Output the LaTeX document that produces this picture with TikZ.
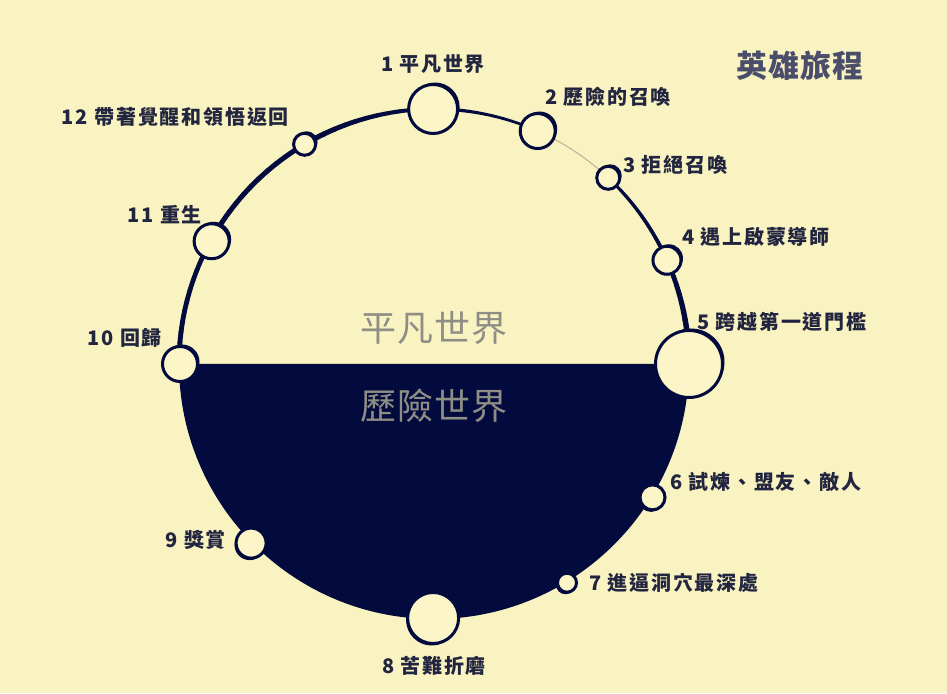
\documentclass[tikz,border=0pt]{standalone}
\usepackage{fontspec}
\newfontfamily\cjk{Noto Sans CJK TC}[LetterSpace=9]
\newfontfamily\cjkw{Noto Sans CJK TC}[LetterSpace=3]
\usetikzlibrary{shadows}
\definecolor{bg}{HTML}{F9F2C1}
\definecolor{stfill}{HTML}{FBF5C8}
\definecolor{navy}{HTML}{030A3D}
\definecolor{labcol}{HTML}{22253F}
\definecolor{titlecol}{HTML}{4B4E6B}
\definecolor{worldcol}{HTML}{8E8E86}
\definecolor{faint}{HTML}{B8B49C}
\newcommand\taperarc[4]{%
  \foreach \i in {0,...,11}{%
    \pgfmathsetmacro\aa{#1+(#2-#1)*\i/12}%
    \pgfmathsetmacro\ab{#1+(#2-#1)*(\i+1)/12}%
    \pgfmathsetmacro\ww{#3+(#4-#3)*(\i+0.5)/12}%
    \draw[line width=\ww pt, draw=navy, line cap=round] ([shift={(\aa:255)}]C) arc[start angle=\aa, end angle=\ab, radius=255];
  }}
\tikzset{
  stn/.style={circle, draw=navy, line width=3pt, fill=stfill, inner sep=0pt},
  stnT/.style={stn, drop shadow={shadow xshift=2pt, shadow yshift=2pt, fill=navy, opacity=1}},
  stnB/.style={stn, drop shadow={shadow xshift=-1.5pt, shadow yshift=-2pt, fill=navy, opacity=1}},
  lab/.style={font=\cjk\bfseries\fontsize{20}{23}\selectfont, text=labcol, inner sep=0pt},
  world/.style={font=\cjkw\fontsize{36}{40}\selectfont, text=worldcol, inner sep=0pt},
  ttl/.style={font=\cjkw\bfseries\fontsize{31}{36}\selectfont, text=titlecol, inner sep=0pt}
}
\begin{document}
\begin{tikzpicture}[x=1pt,y=1pt]
\fill[bg] (0,0) rectangle (947,693);
\useasboundingbox (0,0) rectangle (947,693);
\coordinate (C) at (434,329);
% lower half: the special world
\fill[navy] ([shift={(0:255)}]C) arc[start angle=0, end angle=-180, radius=255] -- cycle;
% upper arc segments
\taperarc{180}{151.1}{5}{4.5}
\taperarc{151.1}{120.5}{5}{5}
\taperarc{120.5}{90.2}{5.5}{3.5}
\taperarc{90.2}{66}{3.5}{2.5}
\draw[line width=1pt, draw=faint] ([shift={(66:255)}]C) arc[start angle=66, end angle=46.9, radius=255];
\taperarc{46.9}{24}{3}{4}
\taperarc{24}{0}{4.5}{6}
% station positions
\coordinate (p1) at ([shift={(90.2:255)}]C);
\coordinate (p2) at ([shift={(66:255)}]C);
\coordinate (p3) at ([shift={(46.9:255)}]C);
\coordinate (p4) at ([shift={(24:255)}]C);
\coordinate (p5) at ([shift={(0:255)}]C);
\coordinate (p6) at ([shift={(-31.4:256)}]C);
\coordinate (p7) at ([shift={(-58.7:256)}]C);
\coordinate (p8) at ([shift={(-90.2:254)}]C);
\coordinate (p9) at ([shift={(-135.6:256)}]C);
\coordinate (p10) at ([shift={(180:254)}]C);
\coordinate (p11) at ([shift={(151.1:254)}]C);
\coordinate (p12) at ([shift={(120.5:255)}]C);
% stations
\node[stnT, minimum size=49] (s1) at (p1) {};
\node[stnT, minimum size=35] (s2) at (p2) {};
\node[stnT, minimum size=23] (s3) at (p3) {};
\node[stnT, minimum size=28] (s4) at (p4) {};
\node[stnT, minimum size=67] (s5) at (p5) {};
\node[stnB, minimum size=25] (s6) at (p6) {};
\node[stnB, minimum size=19] (s7) at (p7) {};
\node[stnB, minimum size=51] (s8) at (p8) {};
\node[stnB, minimum size=30] (s9) at (p9) {};
\node[stnT, minimum size=35] (s10) at (p10) {};
\node[stnT, minimum size=35] (s11) at (p11) {};
\node[stnT, minimum size=22] (s12) at (p12) {};
% labels
\node[lab] (l1) at (433,629) {1 平凡世界};
\node[lab, anchor=west] (l2) at (545,596) {2 歷險的召喚};
\node[lab, anchor=west] (l3) at (623,528) {3 拒絕召喚};
\node[lab, anchor=west] (l4) at (682,456) {4 遇上啟蒙導師};
\node[lab, anchor=west] (l5) at (697,371) {5 跨越第一道門檻};
\node[lab, anchor=west] (l6) at (670,211) {6 試煉、盟友、敵人};
\node[lab, anchor=west] (l7) at (589,110) {7 進逼洞穴最深處};
\node[lab] (l8) at (434,27) {8 苦難折磨};
\node[lab, anchor=east] (l9) at (226,153) {9 獎賞};
\node[lab, anchor=east] (l10) at (162,355) {10 回歸};
\node[lab, anchor=east] (l11) at (202,478) {11 重生};
\node[lab, anchor=east] (l12) at (289,576) {12 帶著覺醒和領悟返回};
% worlds and title
\node[world] (w1) at (434,365) {平凡世界};
\node[world] (w2) at (434,287) {歷險世界};
\node[ttl] (title) at (800,627) {英雄旅程};
\end{tikzpicture}
\end{document}
